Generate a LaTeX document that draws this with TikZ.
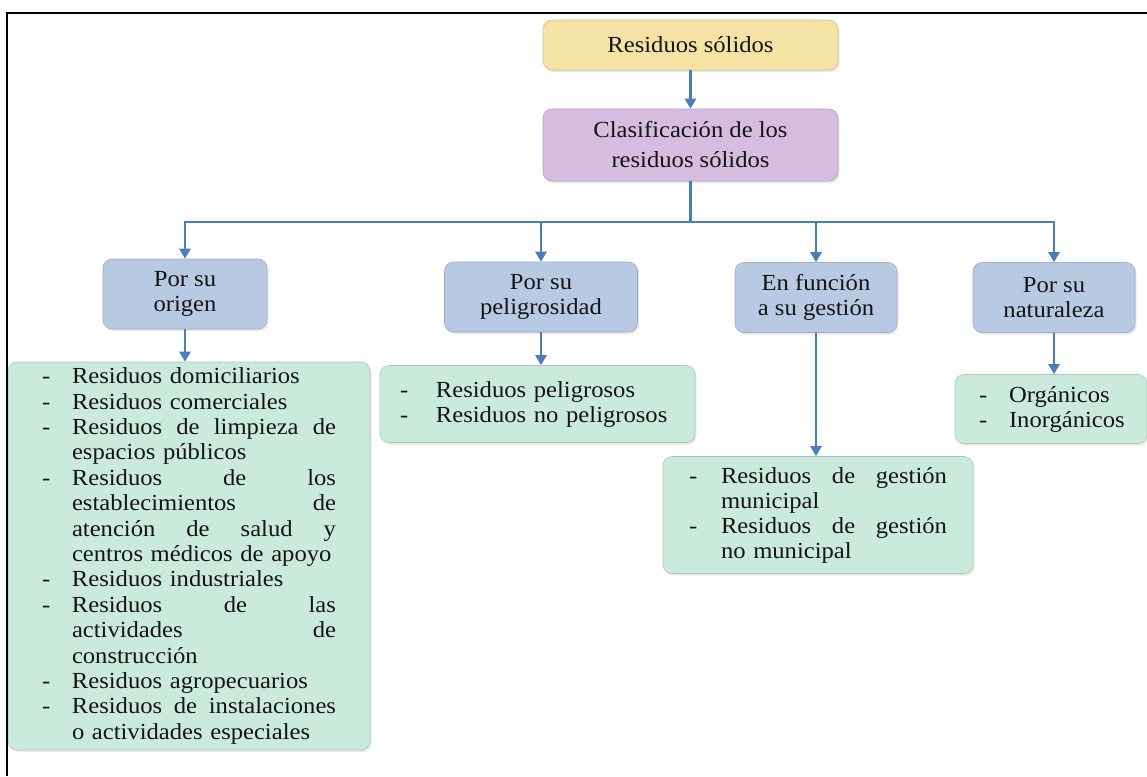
\documentclass[tikz,border=0pt]{standalone}
\usepackage{fontspec}
\setmainfont{Liberation Serif}[FakeStretch=1.07]
\usepackage{tikz}
\usetikzlibrary{arrows.meta, positioning, shadows}

\definecolor{arrowblue}{HTML}{4A7EBB}
\definecolor{boxyellow}{HTML}{F4E3A5}
\definecolor{boxpurple}{HTML}{D6BCDF}
\definecolor{boxblue}{HTML}{B8CAE3}
\definecolor{boxgreen}{HTML}{CAEBDC}

\newlength{\dashw}
\newlength{\itemw}
\newcommand{\dashnat}[1]{\makebox[\dashw][l]{-}#1}
\newcommand{\dashjust}[1]{\makebox[\dashw][l]{-}\makebox[\itemw][s]{\spaceskip=0.25em plus 4em\relax #1}}
\newcommand{\contnat}[1]{\hspace*{\dashw}#1}
\newcommand{\contjust}[1]{\hspace*{\dashw}\makebox[\itemw][s]{\spaceskip=0.25em plus 4em\relax #1}}

\begin{document}
\begin{tikzpicture}[x=1pt, y=-1pt,
    every node/.style={font=\fontsize{23}{25}\selectfont, text=black!92},
    box/.style={rounded corners=9pt, inner sep=0pt, line width=0.6pt,
      drop shadow={opacity=0.18, shadow xshift=1.5pt, shadow yshift=-2pt}},
    catbox/.style={box, fill=boxblue, draw=boxblue!85!black, minimum height=70, align=center},
    listbox/.style={box, fill=boxgreen, draw=boxgreen!85!black, align=left},
    line/.style={draw=arrowblue, line width=2.6pt},
    link/.style={line, -{Triangle[length=10pt, width=11pt]}}]
  \useasboundingbox (0,0) rectangle (1147,776);
  % top
  \node[box, fill=boxyellow, draw=boxyellow!85!black, minimum width=295, minimum height=50] (top) at (690.5,45) {Residuos sólidos};
  \node[box, fill=boxpurple, draw=boxpurple!85!black, minimum width=295, minimum height=72, align=center,
        font=\fontsize{23}{30}\selectfont] (clas) at (690.5,145) {Clasificación de los\\residuos sólidos};
  % categories
  \node[catbox, minimum width=164] (origen) at (185,294) {Por su\\origen};
  \node[catbox, minimum width=193] (pelig) at (541,297) {Por su\\peligrosidad};
  \node[catbox, minimum width=162] (gestion) at (816,297.5) {En función\\a su gestión};
  \node[catbox, minimum width=162] (natur) at (1054,297.5) {Por su\\naturaleza};
  % lists
  \node[listbox, text width=294, inner xsep=34, minimum height=388, font=\fontsize{23}{25.4}\selectfont,
        execute at begin node={\setlength{\dashw}{30pt}\setlength{\itemw}{264pt}}] (list1) at (189,556) {%
    \dashnat{Residuos domiciliarios}\\
    \dashnat{Residuos comerciales}\\
    \dashjust{Residuos de limpieza de}\\
    \contnat{espacios públicos}\\
    \dashjust{Residuos de los}\\
    \contjust{establecimientos de}\\
    \contjust{atención de salud y}\\
    \contnat{centros médicos de apoyo}\\
    \dashnat{Residuos industriales}\\
    \dashjust{Residuos de las}\\
    \contjust{actividades de}\\
    \contnat{construcción}\\
    \dashnat{Residuos agropecuarios}\\
    \dashjust{Residuos de instalaciones}\\
    \contnat{o actividades especiales}};
  \node[listbox, text width=275, inner xsep=20, minimum height=77,
        execute at begin node={\setlength{\dashw}{36pt}}] (list2) at (537.5,404) {%
    \dashnat{Residuos peligrosos}\\
    \dashnat{Residuos no peligrosos}};
  \node[listbox, text width=258, inner xsep=26, minimum height=117,
        execute at begin node={\setlength{\dashw}{32pt}\setlength{\itemw}{226pt}}] (list3) at (818,515) {%
    \dashjust{Residuos de gestión}\\
    \contnat{municipal}\\
    \dashjust{Residuos de gestión}\\
    \contnat{no municipal}};
  \node[listbox, text width=144, inner xsep=24, minimum height=69,
        execute at begin node={\setlength{\dashw}{30pt}}] (list4) at (1051,409) {%
    \dashnat{Orgánicos}\\
    \dashnat{Inorgánicos}};
  % connectors
  \coordinate (hub) at (690.5,222);
  \draw[link] (top.south) -- (clas.north);
  \draw[line] (clas.south) -- (hub);
  \foreach \n in {origen, pelig, gestion, natur}
    \draw[link] (hub) -| (\n.north);
  \draw[link] (origen.south) -- (origen.south |- list1.north);
  \draw[link] (pelig.south) -- (pelig.south |- list2.north);
  \draw[link] (gestion.south) -- (gestion.south |- list3.north);
  \draw[link] (natur.south) -- (natur.south |- list4.north);
  % frame
  \draw[line width=2.6pt] (7,776) -- (7,13) -- (1147,13);
\end{tikzpicture}
\end{document}
